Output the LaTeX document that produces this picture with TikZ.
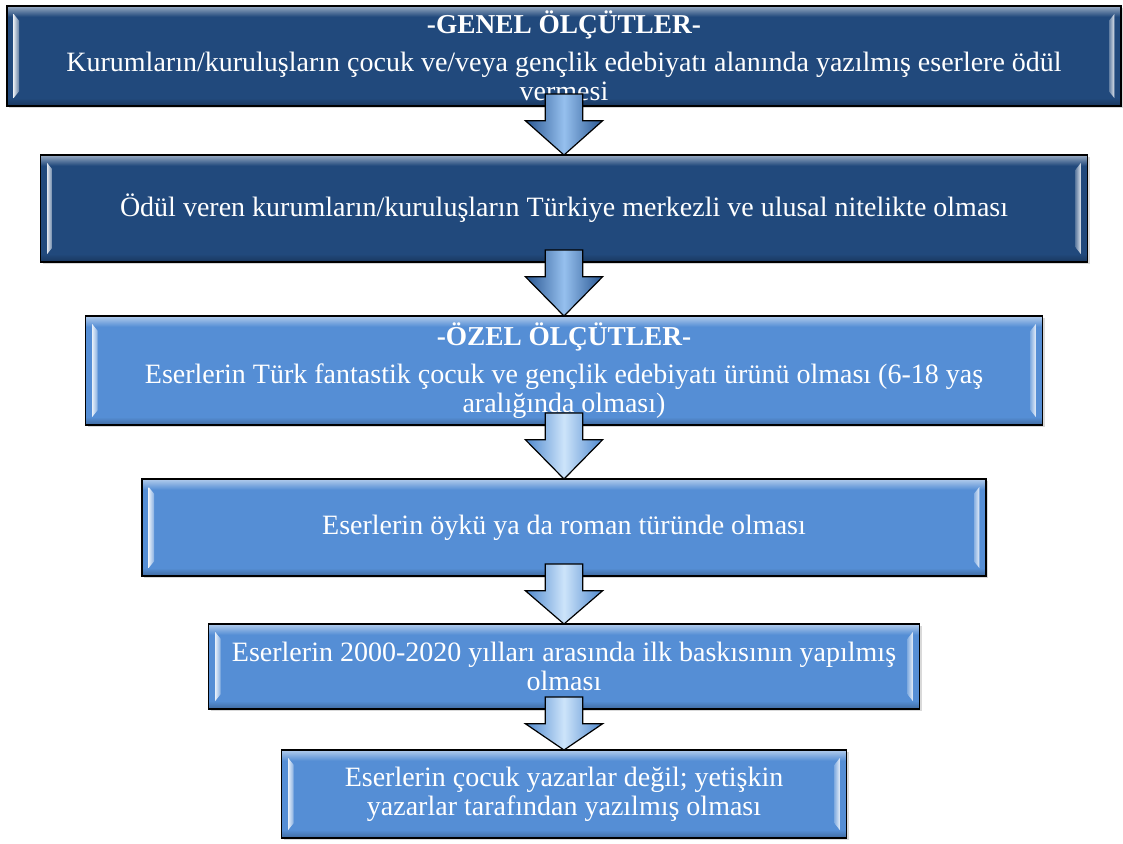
\documentclass[tikz,border=0pt]{standalone}
\usepackage{fontspec}
\setmainfont{Liberation Serif}
\usetikzlibrary{positioning, calc, shadows}

\definecolor{koyumavi}{RGB}{33,73,124}
\definecolor{acikmavi}{RGB}{85,142,213}
\definecolor{okkoyu}{RGB}{40,86,146}
\definecolor{okkoyuparlak}{RGB}{150,192,238}
\definecolor{okacik}{RGB}{78,136,206}
\definecolor{okacikparlak}{RGB}{205,228,250}

\newcommand{\baslik}[1]{{\fontsize{20.5}{22}\selectfont\bfseries #1}}

% block arrow from the bottom of #2 down to the top of #3
\newcommand{\blokok}[3]{%
  \path[#1] let \p1=(#2.south), \p2=(#3.north) in
    (\x1-14pt,\y1+9pt) -- (\x1+14pt,\y1+9pt) -- (\x1+14pt,\y1-11pt)
    -- (\x1+29pt,\y1-11pt) -- (\x1,\y2) -- (\x1-29pt,\y1-11pt)
    -- (\x1-14pt,\y1-11pt) -- cycle;}

\tikzset{
  bevel/.style={path picture={
    \coordinate (bvA) at (path picture bounding box.north west);
    \coordinate (bvB) at (path picture bounding box.south east);
    \shade[top color=#1!45!white, bottom color=#1]
      (bvA) rectangle ($(bvA -| bvB)+(0pt,-8pt)$);
    \shade[top color=#1, bottom color=#1!75!black]
      ($(bvA |- bvB)+(0pt,6pt)$) rectangle (bvB);
    \shade[left color=#1!15!white, right color=#1!70!white]
      ($(bvA)+(5pt,-6pt)$) -- ($(bvA)+(9pt,-11pt)$) -- ($(bvA |- bvB)+(9pt,11pt)$)
      -- ($(bvA |- bvB)+(5pt,6pt)$) -- cycle;
    \shade[right color=#1!15!white, left color=#1!70!white]
      ($(bvA -| bvB)+(-5pt,-6pt)$) -- ($(bvA -| bvB)+(-9pt,-11pt)$) -- ($(bvB)+(-9pt,11pt)$)
      -- ($(bvB)+(-5pt,6pt)$) -- cycle;
  }}
}

\begin{document}
\begin{tikzpicture}[
  x=0.75pt, y=0.75pt,
  kutu/.style={draw=black, line width=1pt, outer sep=0pt, align=center, text=white,
    font=\fontsize{21}{21.5}\selectfont,
    drop shadow={shadow xshift=1.5pt, shadow yshift=-1.5pt, opacity=0.3}},
  koyu/.style={kutu, fill=koyumavi, bevel=koyumavi},
  acik/.style={kutu, fill=acikmavi, bevel=acikmavi},
  okstil/.style={draw=black, line width=0.9pt, left color=#1, right color=#1, middle color=#1parlak}
]
\useasboundingbox (0,0) rectangle (1123,-843);

\node[koyu, minimum width=835.5pt, minimum height=75pt] (genel) at (564,-56)
  {\baslik{-GENEL ÖLÇÜTLER-}\\[7pt]
   Kurumların/kuruluşların çocuk ve/veya gençlik edebiyatı alanında yazılmış eserlere ödül\\ vermesi};
\node[koyu, minimum width=785.25pt, minimum height=80.25pt, below=36.75pt of genel] (merkez)
  {Ödül veren kurumların/kuruluşların Türkiye merkezli ve ulusal nitelikte olması};
\node[acik, minimum width=717.75pt, minimum height=81.75pt, below=40.5pt of merkez] (ozel)
  {\baslik{-ÖZEL ÖLÇÜTLER-}\\[7pt]
   Eserlerin Türk fantastik çocuk ve gençlik edebiyatı ürünü olması (6-18 yaş\\ aralığında olması)};
\node[acik, minimum width=633pt, minimum height=72.75pt, below=40.5pt of ozel] (tur)
  {Eserlerin öykü ya da roman türünde olması};
\node[acik, minimum width=533.25pt, minimum height=63.75pt, below=36pt of tur] (baski)
  {Eserlerin 2000-2020 yılları arasında ilk baskısının yapılmış\\ olması};
\node[acik, minimum width=423.75pt, minimum height=66pt, below=30.75pt of baski] (yazar)
  {Eserlerin çocuk yazarlar değil; yetişkin\\ yazarlar tarafından yazılmış olması};

\blokok{okstil=okkoyu}{genel}{merkez}
\blokok{okstil=okkoyu}{merkez}{ozel}
\blokok{okstil=okacik}{ozel}{tur}
\blokok{okstil=okacik}{tur}{baski}
\blokok{okstil=okacik}{baski}{yazar}
\end{tikzpicture}
\end{document}
